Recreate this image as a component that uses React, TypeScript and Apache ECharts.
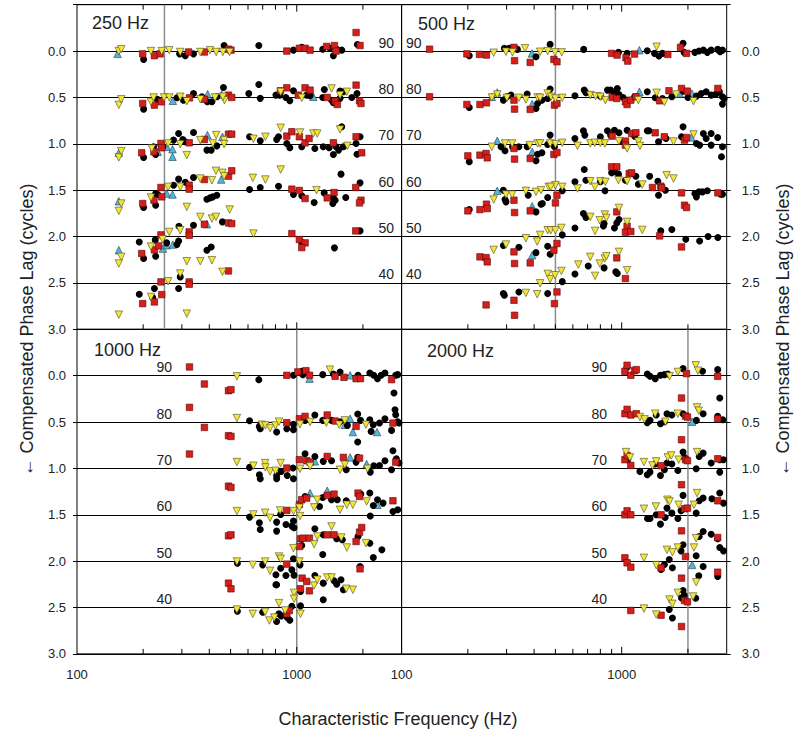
import React, { useEffect, useRef } from 'react';
import * as echarts from 'echarts';

type Pt = [number, number];

const levelLabels = ['90', '80', '70', '60', '50', '40'];
const yTickValues = [0, 0.5, 1, 1.5, 2, 2.5, 3];
const xLabelValues = [100, 1000];
const tickFreqs = [200, 300, 400, 500, 600, 700, 800, 900, 1000, 2000];
const panelTitles = ['250 Hz', '500 Hz', '1000 Hz', '2000 Hz'];
const panelRefFreqs = [250, 500, 1000, 2000];
const yTitle = '\u2190 Compensated Phase Lag (cycles)';
const xTitle = 'Characteristic Frequency (Hz)';

// ---------- 250 Hz panel ----------
const circles250: Pt[] = [
  [201,0.09],[293,0.03],[311,0.05],[339,0.03],[467,-0.06],[672,-0.06],[966,-0.01],[1054,-0.04],[1313,-0.02],[1415,-0.03],[1468,0.05],[1520,-0.02],[1602,-0.01],[1887,-0.07],
  [201,0.626],[232,0.52],[285,0.504],[305,0.53],[339,0.457],[370,0.493],[392,0.547],[411,0.547],[433,0.493],[464,0.392],[605,0.457],[672,0.36],[682,0.51],[804,0.475],[837,0.475],[893,0.5],[930,0.536],[966,0.428],[1110,0.475],[1150,0.482],[1313,0.5],[1335,0.414],[1440,0.53],[1468,0.558],[1574,0.51],[1574,0.43],[1630,0.439],[1780,0.5],[1880,0.457],
  [201,1.147],[223,1.032],[228,1.115],[246,1.032],[275,0.96],[290,0.889],[303,0.953],[311,0.978],[339,0.878],[390,1.068],[408,1.068],[433,1.022],[610,0.924],[682,0.968],[810,0.953],[826,0.924],[901,0.996],[930,1.043],[1054,1.032],[1209,1.05],[1320,1.032],[1404,1.043],[1468,1.115],[1510,1.032],[1550,1.068],[1602,0.817],[1630,1.032],[1880,1.112],[1862,0.996],[1941,0.924],
  [201,1.687],[228,1.536],[228,1.662],[233,1.547],[275,1.446],[290,1.381],[311,1.414],[339,1.363],[390,1.597],[403,1.583],[415,1.572],[433,1.554],[610,1.493],[682,1.471],[826,1.457],[966,1.547],[1054,1.561],[1200,1.633],[1333,1.529],[1468,1.583],[1459,1.644],[1495,1.608],[1671,1.579],[1590,1.327],[1941,1.421],
  [192,2.058],[201,2.237],[227,2.036],[228,2.212],[256,2.068],[285,2.086],[291,1.889],[290,2.047],[339,1.878],[390,2.147],[408,2.112],[459,1.842],[1054,2.065],[1484,2.122],[1941,1.939],
  [192,2.622],[225,2.56],[221,2.658],[290,2.56],[295,2.435],
];
const squares250: Pt[] = [
  [199,0.03],[225,0.05],[239,0.03],[322,0.01],[380,0.01],[489,-0.02],[502,-0.01],[901,0.0],[1028,-0.03],[1091,-0.03],[1150,-0.01],[1368,-0.05],[1484,-0.06],[1510,0.0],[1862,-0.2],[1941,-0.06],
  [199,0.565],[225,0.583],[242,0.547],[325,0.504],[380,0.52],[489,0.475],[506,0.5],[843,0.428],[901,0.396],[1016,0.475],[1091,0.396],[1150,0.421],[1376,0.5],[1495,0.54],[1530,0.576],[1862,0.367],[1930,0.536],[1960,0.565],
  [197,1.097],[224,1.086],[241,0.996],[243,1.043],[324,0.989],[380,0.953],[489,0.896],[506,0.896],[901,0.917],[950,0.87],[1028,0.924],[1091,0.989],[1138,0.942],[1468,0.989],[1862,0.924],[1975,1.097],
  [199,1.644],[224,1.608],[241,1.471],[243,1.572],[324,1.446],[324,1.489],[380,1.385],[489,1.349],[506,1.291],[950,1.489],[1028,1.503],[1091,1.59],[1376,1.583],[1478,1.525],[1856,1.471],[1960,1.608],[1930,1.637],
  [197,2.183],[225,2.144],[235,2.101],[241,1.982],[324,1.95],[324,1.986],[380,1.867],[489,1.853],[506,1.86],[489,2.371],[950,1.968],[1028,2.032],[1092,2.068],[1054,2.119],[1856,1.939],
  [199,2.723],[225,2.705],[241,2.489],[243,2.626],[324,2.489],[324,2.514],
];
const downTri250: Pt[] = [
  [155,0.0],[159,-0.02],[217,0.0],[243,0.0],[263,-0.01],[295,0.01],[364,0.01],[403,-0.01],[430,0.01],[461,0.01],[495,0.01],
  [155,0.58],[159,0.52],[217,0.547],[223,0.5],[249,0.5],[263,0.5],[295,0.493],[316,0.54],[364,0.52],[425,0.5],[469,0.53],[461,0.493],[845,0.44],[1054,0.504],[1440,0.403],[1690,0.439],[1574,0.475],
  [155,1.147],[159,1.079],[219,1.05],[260,0.996],[295,1.004],[316,1.122],[364,0.96],[415,0.996],[430,0.906],[467,0.96],[467,1.004],[635,0.946],[720,0.924],[845,0.827],[1035,0.878],[1190,0.889],[1240,0.889],[1574,0.845],[1700,1.022],
  [159,1.644],[155,1.723],[217,1.579],[260,1.464],[295,1.464],[316,1.68],[364,1.374],[411,1.392],[429,1.291],[459,1.313],[467,1.349],[495,1.709],[631,1.367],[720,1.385],[845,1.277],[1230,1.5],
  [159,2.219],[155,2.291],[217,2.108],[245,2.029],[263,1.95],[295,1.932],[316,2.266],[364,2.266],[411,2.255],[364,1.788],[411,1.806],[429,1.788],[459,2.381],[635,1.968],
  [155,2.842],[217,2.651],[260,2.482],[295,2.399],[316,2.831],
];
const upTri250: Pt[] = [
  [153,0.03],[273,0.536],[393,0.464],[455,0.468],[1190,0.493],[155,1.097],[233,1.086],[256,1.032],[272,1.058],[272,1.14],[392,0.906],[459,0.924],
  [155,1.619],[256,1.536],[272,1.547],[453,1.385],[155,2.147],[246,2.129],[256,2.094],[273,2.086],[390,1.867],
];

// ---------- 500 Hz panel ----------
const circles500: Pt[] = [
  [203,0.05],[293,-0.03],[308,-0.03],[336,-0.018],[408,0.061],[473,-0.072],[672,-0.018],[967,0.014],[1058,0.025],[1307,-0.004],[1410,0.025],[1476,0.054],[1532,0.025],[1900,-0.083],[1920,0.014],[2150,0.014],[2245,0],[2350,-0.01],[2450,0.014],[2550,-0.01],[2730,-0.018],[2800,0.007],[2870,-0.01],
  [203,0.608],[290,0.529],[301,0.493],[314,0.475],[372,0.464],[408,0.619],[415,0.565],[434,0.529],[461,0.511],[473,0.41],[613,0.482],[676,0.421],[688,0.45],[800,0.486],[862,0.421],[890,0.421],[955,0.403],[927,0.457],[972,0.468],[1015,0.5],[1144,0.493],[1307,0.439],[1420,0.504],[1532,0.511],[1690,0.493],[1900,0.432],[2000,0.5],[2185,0.486],[2300,0.457],[2420,0.439],[2550,0.475],[2680,0.464],[2780,0.439],[2870,0.493],[2870,0.572],[2920,0.511],
  [203,1.194],[283,1.032],[295,1.075],[319,1.032],[341,1.032],[372,1.032],[408,1.183],[415,1.112],[434,1.097],[473,0.906],[461,1.007],[495,1.032],[613,0.942],[670,0.86],[680,0.906],[800,0.924],[862,0.86],[927,0.853],[972,0.881],[890,0.906],[1000,0.968],[1058,0.853],[1144,0.917],[1307,0.86],[1330,0.86],[1470,0.978],[1590,0.942],[1900,0.817],[1870,0.924],[2185,0.996],[2260,1.014],[2350,0.889],[2420,0.942],[2550,1.014],[2550,0.889],[2730,0.932],[2870,1.032],[2840,1.14],
  [203,1.709],[290,1.5],[295,1.601],[298,1.626],[376,1.554],[408,1.734],[430,1.651],[436,1.644],[461,1.579],[537,1.507],[613,1.41],[676,1.277],[688,1.392],[800,1.41],[840,1.507],[900,1.313],[927,1.302],[967,1.327],[1040,1.392],[1160,1.349],[1190,1.435],[1340,1.349],[1460,1.403],[1470,1.554],[1580,1.5],[2150,1.536],[2185,1.572],[2245,1.518],[2330,1.518],[2450,1.507],[2820,1.543],[2870,1.543],
  [290,2.097],[341,2.115],[408,2.173],[461,2.104],[473,2.191],[537,1.982],[613,1.907],[670,1.752],[688,1.795],[826,1.885],[832,1.86],[927,1.907],[950,1.853],[972,1.817],[1505,1.939],[1690,1.924],[1955,2.029],[2260,2.047],[2470,2.0],[2735,2.011],
  [290,2.615],[293,2.633],[341,2.597],[461,2.615],[537,2.486],[613,2.403],[705,2.317],[832,2.338],[940,2.381],[955,2.399],
];
const squares500: Pt[] = [
  [134,-0.02],[198,0.03],[226,0.036],[243,0.043],[324,-0.04],[326,0.104],[384,0.122],[492,0.09],[508,0.115],[900,0.025],[953,0.043],[1046,0.072],[1066,0.108],[1144,0.032],[1620,0.036],[1850,-0.04],[1970,0.025],
  [134,0.493],[198,0.576],[227,0.576],[243,0.558],[324,0.529],[326,0.626],[384,0.629],[495,0.583],[508,0.565],[905,0.5],[950,0.511],[1040,0.547],[1058,0.576],[1100,0.529],[1160,0.493],[1487,0.536],[1640,0.428],[1870,0.403],[1985,0.432],[2735,0.403],
  [200,1.13],[227,1.122],[242,1.104],[245,1.151],[324,1.05],[326,1.165],[384,1.158],[492,1.115],[508,1.094],[905,0.917],[1040,0.971],[1040,1.014],[1110,0.889],[1160,0.881],[1420,0.881],[1562,0.924],[1930,0.96],[1970,0.932],
  [200,1.723],[227,1.709],[243,1.651],[245,1.698],[324,1.608],[326,1.741],[384,1.723],[500,1.637],[508,1.554],[900,1.248],[950,1.248],[1082,1.32],[1110,1.313],[1380,1.471],[1506,1.457],[1520,1.475],[1870,1.529],[1930,1.662],[1970,1.687],[2735,1.529],
  [227,2.219],[242,2.227],[245,2.273],[324,2.165],[326,2.291],[384,2.284],[492,2.147],[508,2.075],[950,1.734],[1058,1.889],[1040,1.953],[1100,1.946],[1487,1.993],[1870,2.112],
  [242,2.737],[324,2.687],[326,2.849],[508,2.597],[495,2.723],[950,2.23],[1040,2.453],
];
const downTri500: Pt[] = [
  [262,0.018],[298,0.007],[319,0.014],[364,-0.03],[426,0.007],[461,0.0],[498,0.014],[534,0.014],[1441,-0.047],
  [257,0.5],[272,0.468],[301,0.504],[341,0.504],[367,0.522],[415,0.5],[426,0.504],[461,0.457],[478,0.493],[500,0.511],[537,0.504],[720,0.475],[761,0.486],[800,0.493],[843,0.529],[1190,0.529],[1441,0.45],[1562,0.55],[1768,0.468],[2120,0.54],
  [257,1.032],[295,0.996],[318,0.996],[382,1.014],[415,0.996],[426,0.996],[473,0.996],[500,1.004],[537,0.989],[630,1.022],[720,0.996],[755,0.989],[800,0.989],[838,0.996],[972,0.971],[1058,1.05],[1190,0.975],[1210,1.022],[1720,0.975],[2120,0.899],
  [262,1.601],[298,1.547],[318,1.547],[367,1.507],[408,1.518],[430,1.5],[466,1.464],[500,1.446],[476,1.464],[537,1.464],[630,1.482],[720,1.403],[755,1.464],[800,1.403],[843,1.41],[967,1.392],[1058,1.403],[1240,1.439],[1600,1.338],[1720,1.374],
  [262,2.144],[298,2.086],[367,2.018],[413,2.054],[426,1.982],[461,1.932],[476,1.932],[500,1.932],[532,1.907],[720,1.788],[757,1.939],[795,1.824],[838,1.763],[852,1.799],[972,1.691],[1058,1.842],[1240,1.928],
  [367,2.608],[413,2.622],[426,2.504],[461,2.403],[473,2.46],[498,2.417],[532,2.371],[635,2.302],[720,2.219],[757,2.424],[795,2.291],[838,2.237],[852,2.212],[972,2.165],[1058,2.363],
];
const upTri500: Pt[] = [
  [391,0.025],[1203,-0.01],[272,0.446],[257,0.493],[392,0.572],[1203,0.439],[1835,0.457],[2085,0.457],[272,0.968],[392,1.086],[2075,0.932],[272,1.507],[392,1.673],[392,2.201],
];

// ---------- 1000 Hz panel ----------
const circles1000: Pt[] = [
  [672,0.043],[966,-0.004],[1066,-0.011],[1054,-0.047],[1313,-0.011],[1468,-0.018],[1574,-0.04],[1900,-0.004],[2150,-0.029],[2240,-0.004],[2330,0.032],[2420,-0.004],[2520,-0.029],[2770,0.187],[2820,-0.004],[2880,-0.011],
  [610,0.486],[676,0.547],[682,0.572],[810,0.608],[901,0.572],[966,0.583],[966,0.525],[1091,0.482],[1209,0.424],[1313,0.482],[1440,0.482],[1574,0.496],[1700,0.536],[1894,0.414],[1894,0.716],[1950,0.482],[2150,0.475],[2180,0.601],[2230,0.529],[2380,0.511],[2520,0.464],[2700,0.59],[2800,0.367],[2820,0.421],[2880,0.496],[2920,0.511],
  [610,0.989],[676,1.068],[682,1.112],[810,1.076],[810,1.112],[850,1.032],[905,1.076],[966,1.112],[962,0.996],[1091,0.842],[1209,0.871],[1320,0.924],[1440,0.917],[1680,1.014],[1862,0.932],[1894,0.881],[2160,1.04],[2240,0.971],[2380,0.968],[2520,0.917],[2700,1.014],[2740,0.809],[2840,0.896],[2920,0.942],
  [610,1.525],[676,1.586],[682,1.658],[810,1.579],[810,1.676],[845,1.496],[893,1.604],[950,1.622],[972,1.64],[966,1.568],[1091,1.302],[1270,1.41],[1313,1.313],[1440,1.338],[1530,1.338],[1680,1.349],[1955,1.277],[2150,1.266],[2160,1.514],[2230,1.399],[2330,1.338],[2470,1.374],[2740,1.464],[2880,1.446],
  [537,2.022],[700,2.04],[804,2.147],[810,2.255],[845,2.076],[893,2.155],[950,2.094],[966,1.975],[972,2.151],[1035,2.04],[1054,1.831],[1209,1.651],[1313,1.928],[1320,1.716],[1520,1.759],[1612,1.77],[1900,1.734],[2150,1.806],[2230,1.96],[2440,1.878],[1941,2.058],
  [537,2.54],[700,2.55],[804,2.255],[810,2.651],[830,2.568],[850,2.59],[905,2.608],[930,2.637],[950,2.486],[1040,2.482],[1040,2.327],[1209,2.155],[1320,2.417],[1320,2.237],[1478,2.212],[1590,2.201],[1630,2.309],[1520,2.248],
];
const squares1000: Pt[] = [
  [325,-0.094],[380,0.09],[489,0.162],[502,0.151],[901,-0.004],[1011,-0.04],[1101,-0.054],[1144,-0.004],[1495,0.007],[1640,0.018],[1862,0.032],[1950,0.032],[2700,0.043],
  [325,0.342],[380,0.558],[489,0.647],[502,0.655],[901,0.507],[1028,0.464],[1091,0.439],[1376,0.424],[1495,0.489],[1862,0.547],[2740,0.511],
  [325,0.845],[901,0.996],[1028,0.906],[1110,0.917],[1150,0.932],[1376,0.871],[1630,0.881],[1930,0.889],[2820,0.932],
  [489,1.191],[502,1.205],[901,1.453],[1028,1.388],[1054,1.338],[1110,1.32],[1376,1.291],[1478,1.277],[1900,1.266],[1930,1.302],[2740,1.349],
  [489,1.727],[502,1.716],[901,2.032],[1028,1.842],[1040,1.759],[1066,1.752],[1142,1.752],[1376,1.716],[1478,1.716],[1862,1.788],[1930,1.687],[1975,1.637],[1941,2.083],
  [489,2.237],[502,2.298],[901,2.568],[925,2.532],[1040,2.298],[1058,2.183],[1110,2.219],[1142,2.32],
];
const downTri1000: Pt[] = [
  [534,0.007],[1415,-0.065],
  [534,0.457],[694,0.529],[720,0.536],[756,0.565],[800,0.536],[830,0.496],[1035,0.525],[1150,0.5],[1364,0.507],[1560,0.529],[1655,0.482],[2065,0.529],
  [534,0.932],[635,0.971],[718,0.942],[720,0.989],[756,1.032],[800,1.025],[845,0.942],[1035,1.004],[1150,0.978],[1574,1.014],[1655,0.96],[2100,1.004],
  [534,1.46],[635,1.496],[718,1.478],[756,1.532],[840,1.453],[966,1.46],[1035,1.514],[1028,1.424],[1200,1.42],[1240,1.338],[1574,1.446],[1690,1.392],[1800,1.392],[2080,1.356],
  [534,2.004],[631,2.04],[718,2.004],[756,2.104],[830,1.95],[845,1.975],[966,1.86],[1028,2.004],[1200,1.817],[1240,1.734],[1440,1.626],[1595,1.745],[1690,1.853],[2065,1.806],
  [534,2.522],[631,2.568],[718,2.547],[750,2.64],[790,2.608],[830,2.453],[885,2.532],[972,2.342],[972,2.406],[1040,2.568],[1200,2.263],[1240,2.201],[1376,2.176],[1440,2.176],[1680,2.298],[1800,2.309],
];
const upTri1000: Pt[] = [
  [1144,0.032],[1750,-0.004],[1655,0.529],[1750,0.464],[1800,0.608],[2320,0.608],[1209,0.924],[1750,0.881],[2080,0.953],[1150,1.266],[1376,1.241],[2330,1.392],
];

// ---------- 2000 Hz panel ----------
const circles2000: Pt[] = [
  [1058,-0.09],[1307,-0.018],[1345,0.007],[1420,0.032],[1500,-0.004],[1564,-0.011],[1620,-0.018],[1900,-0.076],[2330,-0.047],[2730,-0.065],
  [1058,0.388],[1307,0.507],[1345,0.482],[1435,0.424],[1500,0.518],[1564,0.496],[1606,0.41],[1690,0.424],[1900,0.41],[2185,0.482],[2345,0.41],[2790,0.241],[2730,0.439],[2880,0.475],
  [1066,0.906],[1210,1.032],[1307,1.068],[1345,1.04],[1420,0.953],[1500,1.076],[1564,1.014],[1606,0.942],[1690,0.953],[1800,1.022],[1900,0.824],[1925,0.881],[2250,0.871],[2345,0.835],[2180,1.004],[2550,0.942],[2790,0.906],[2790,1.04],[2900,0.906],
  [1310,1.54],[1345,1.54],[1435,1.5],[1500,1.601],[1575,1.529],[1606,1.428],[1690,1.482],[1800,1.54],[1860,1.457],[1900,1.291],[2180,1.482],[2250,1.349],[2345,1.32],[2570,1.327],[2790,1.266],[2900,1.374],
  [1510,2.09],[1564,2.036],[1645,1.982],[1700,2.072],[1860,1.889],[1900,1.824],[2180,1.942],[2345,2.058],[2250,1.734],[2345,1.68],[2550,1.709],[2730,1.759],[2790,1.853],[2900,1.889],[2240,2.158],[2730,2.165],
  [1645,2.522],[1700,2.612],[1900,2.317],[1870,2.396],[1925,2.367],[2170,2.399],
];
const squares2000: Pt[] = [
  [1034,-0.047],[1058,-0.112],[1100,-0.004],[1144,-0.054],[1165,-0.065],[1970,-0.022],[2730,0.007],
  [1034,0.41],[1058,0.363],[1100,0.424],[1165,0.41],[1870,0.241],[1950,0.435],[1990,0.446],[2730,0.464],
  [1034,0.906],[1058,0.86],[1100,0.968],[1510,0.971],[1870,0.691],[1950,0.906],[1990,0.917],[2730,0.896],
  [1034,1.5],[1058,1.457],[1100,1.5],[1510,1.5],[1870,1.176],[1930,1.435],[1990,1.428],[2730,1.349],
  [1034,1.964],[1058,2.018],[1100,2.065],[1510,2.072],[1870,1.673],[1870,2.183],[1950,1.95],[2730,1.745],[2730,2.119],
  [1100,2.532],[1510,2.583],[1930,2.424],[1990,2.439],[1870,2.705],
];
const downTri2000: Pt[] = [
  [1650,0.007],[1800,-0.04],[2170,-0.112],[2220,-0.054],
  [1210,0.446],[1270,0.471],[1420,0.41],[1580,0.496],[1800,0.41],[2200,0.342],[2240,0.378],
  [1046,0.824],[1090,0.881],[1262,0.932],[1380,0.968],[1435,0.924],[1620,0.881],[1680,0.86],[1815,0.906],[2200,0.824],
  [1262,1.435],[1430,1.41],[1612,1.338],[1650,1.356],[1815,1.392],[2130,1.392],[2200,1.266],
  [1262,1.964],[1435,2.043],[1606,1.878],[1700,1.903],[1800,1.853],[2130,1.853],[2180,1.752],[2180,2.227],
  [1262,2.511],[1435,2.576],[1650,2.414],[1700,2.46],[1800,2.342],[2110,2.381],
];
const upTri2000: Pt[] = [[2090,0.496],[2090,2.04]];

const panelCircles = [circles250, circles500, circles1000, circles2000];
const panelSquares = [squares250, squares500, squares1000, squares2000];
const panelDownTri = [downTri250, downTri500, downTri1000, downTri2000];
const panelUpTri = [upTri250, upTri500, upTri1000, upTri2000];

// ---------- layout ----------
const X0 = 77, XM = 401.6, X1 = 726.7;
const Y0 = 4.7, PH = 324.6;
const FONT = '"Liberation Sans", Arial, Helvetica, sans-serif';
const grids = [
  { left: X0, top: Y0, width: XM - X0, height: PH },
  { left: XM, top: Y0, width: X1 - XM, height: PH },
  { left: X0, top: Y0 + PH, width: XM - X0, height: PH },
  { left: XM, top: Y0 + PH, width: X1 - XM, height: PH },
];
const levelLabelAnchor: [number, string][] = [[394, 'right'], [406, 'left'], [172, 'right'], [607, 'right']];
const titleAnchor: [number, number][] = [[92, 23], [418, 23.5], [94, 350], [427, 351]];

export default function App() {
  const ref = useRef<HTMLDivElement>(null);
  useEffect(() => {
    if (!ref.current) return;
    const chart = echarts.init(ref.current, undefined, { renderer: 'svg' });

    const xAxes: any[] = [];
    const yAxes: any[] = [];
    const series: any[] = [];
    const graphics: any[] = [];

    for (let i = 0; i < 4; i++) {
      const isBottom = i >= 2;
      const isRight = i % 2 === 1;
      xAxes.push({
        type: 'log', logBase: 10, min: 100, max: 3000, gridIndex: i,
        axisLine: { show: false }, axisTick: { show: false }, splitLine: { show: false },
        axisLabel: {
          show: isBottom, margin: 14, fontSize: 13, color: '#222', fontFamily: FONT,
          formatter: (v: number) => (xLabelValues.some((t) => Math.abs(t - v) < 0.5) ? String(Math.round(v)) : ''),
        },
      });
      yAxes.push({
        type: 'value', gridIndex: i, min: -0.5, max: 3, interval: 0.5, inverse: true,
        position: isRight ? 'right' : 'left',
        axisLine: { show: false },
        axisTick: { show: true, inside: false, length: 4, lineStyle: { color: '#000', width: 1 } },
        axisLabel: {
          margin: isRight ? 15 : 11, fontSize: 13, color: '#222', fontFamily: FONT,
          formatter: (v: number) => (yTickValues.some((t) => Math.abs(t - v) < 1e-6) ? v.toFixed(1) : ''),
        },
        splitLine: { show: true, lineStyle: { color: '#000', width: 1 } },
      });

      series.push({
        type: 'line', xAxisIndex: i, yAxisIndex: i, z: 1, silent: true, symbol: 'none',
        data: [[panelRefFreqs[i], -0.5], [panelRefFreqs[i], 3]],
        lineStyle: { color: '#8c8c8c', width: 1.5 },
      });
      series.push({
        type: 'custom', xAxisIndex: i, yAxisIndex: i, z: 4, silent: true, clip: false,
        data: tickFreqs.map((f) => [f, 0]),
        renderItem: (_p: any, api: any) => {
          const f = api.value(0);
          const top = api.coord([f, -0.5]);
          const bot = api.coord([f, 3]);
          const len = Math.abs(f - 1000) < 1 ? 7 : 5;
          const st = { stroke: '#000', lineWidth: 1 };
          const children: any[] = [
            { type: 'line', shape: { x1: bot[0], y1: bot[1], x2: bot[0], y2: bot[1] - len }, style: st },
          ];
          if (!isBottom) {
            children.push({ type: 'line', shape: { x1: top[0], y1: top[1], x2: top[0], y2: top[1] + len }, style: st });
          }
          return { type: 'group', children };
        },
      });
      const common = { type: 'scatter', xAxisIndex: i, yAxisIndex: i, silent: true };
      series.push({
        ...common, z: 2, data: panelUpTri[i], symbol: 'triangle', symbolSize: 7.5,
        itemStyle: { color: '#52b6d8', borderColor: '#2b3a48', borderWidth: 0.6, opacity: 1 },
      });
      series.push({
        ...common, z: 2, data: panelCircles[i], symbol: 'circle', symbolSize: 7,
        itemStyle: { color: '#000', opacity: 1 },
      });
      series.push({
        ...common, z: 3, data: panelSquares[i], symbol: 'rect', symbolSize: 6.5,
        itemStyle: { color: '#d61f1a', borderColor: '#5a0a08', borderWidth: 0.6, opacity: 1 },
      });
      series.push({
        ...common, z: 3, data: panelDownTri[i], symbol: 'triangle', symbolRotate: 180, symbolSize: 7.5,
        itemStyle: { color: '#f3e634', borderColor: '#4a4a30', borderWidth: 0.6, opacity: 1 },
      });

      graphics.push({
        type: 'text', x: titleAnchor[i][0], y: titleAnchor[i][1],
        style: { text: panelTitles[i], fontSize: 18, fontFamily: FONT, fill: '#222', textAlign: 'left', textVerticalAlign: 'middle' },
      });
      const zeroY = grids[i].top + PH / 7;
      levelLabels.forEach((lab, k) => {
        graphics.push({
          type: 'text', x: levelLabelAnchor[i][0], y: zeroY + k * (PH / 7) - 8.5,
          style: { text: lab, fontSize: 14, fontFamily: FONT, fill: '#222', textAlign: levelLabelAnchor[i][1], textVerticalAlign: 'middle' },
        });
      });
    }

    graphics.push({
      type: 'text', x: 27, y: 330, rotation: Math.PI / 2,
      style: { text: yTitle, fontSize: 18, fontFamily: FONT, fill: '#222', textAlign: 'center', textVerticalAlign: 'middle' },
    });
    graphics.push({
      type: 'text', x: 783, y: 330, rotation: Math.PI / 2,
      style: { text: yTitle, fontSize: 18, fontFamily: FONT, fill: '#222', textAlign: 'center', textVerticalAlign: 'middle' },
    });
    graphics.push({
      type: 'text', x: 398, y: 719,
      style: { text: xTitle, fontSize: 18, fontFamily: FONT, fill: '#222', textAlign: 'center', textVerticalAlign: 'middle' },
    });

    chart.setOption({
      animation: false,
      backgroundColor: '#fff',
      textStyle: { fontFamily: FONT },
      grid: grids.map((g) => ({ ...g, show: true, borderColor: '#000', borderWidth: 1, backgroundColor: 'transparent', containLabel: false })),
      xAxis: xAxes,
      yAxis: yAxes,
      series,
      graphic: graphics,
    });
    return () => chart.dispose();
  }, []);

  return (
    <div
      ref={ref}
      style={{ position: 'fixed', left: 0, top: 0, width: 799, height: 729, background: '#fff' }}
    />
  );
}
